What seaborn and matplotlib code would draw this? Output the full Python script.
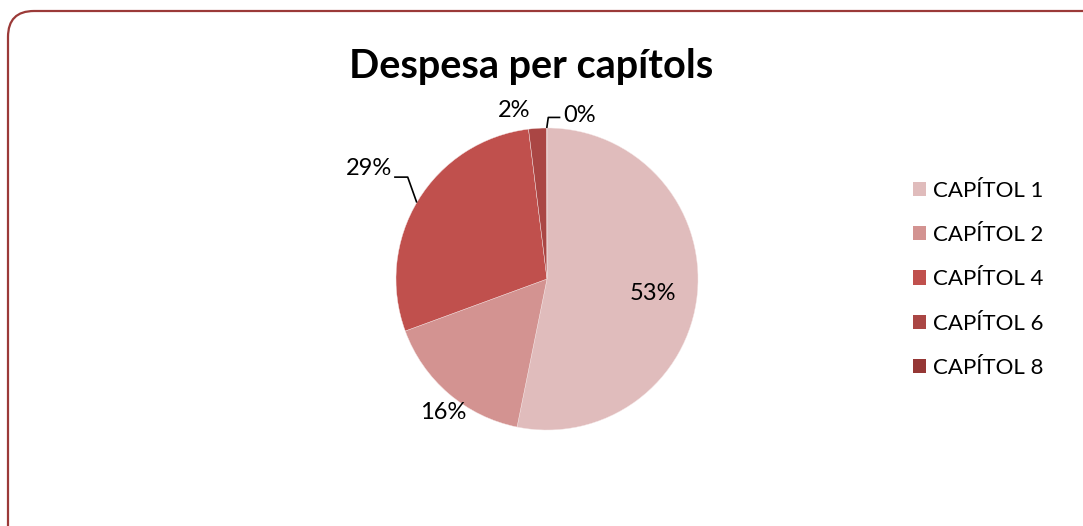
import numpy as np
import matplotlib.pyplot as plt
import seaborn as sns
from matplotlib.patches import FancyBboxPatch, Patch
from matplotlib.transforms import IdentityTransform

# Data: share of spending per chapter (%)
chapters = ['CAPÍTOL 1', 'CAPÍTOL 2', 'CAPÍTOL 4', 'CAPÍTOL 6', 'CAPÍTOL 8']
shares = [53.1, 16.2, 28.6, 1.9, 0.05]
colors = ['#E0BCBC', '#D39391', '#C0504D', '#AA4644', '#953735']
title = 'Despesa per capítols'

sns.set_theme(style='white')
plt.rcParams['font.family'] = ['Lato', 'DejaVu Sans']
plt.rcParams['text.color'] = 'black'

W, H = 1083, 526
fig = plt.figure(figsize=(W / 100, H / 100), dpi=100)

# Rounded chart-area border (display pixels)
frame = FancyBboxPatch((8, -40), 1120, H - 11 + 40,
                       boxstyle='round,pad=0,rounding_size=26',
                       transform=IdentityTransform(), facecolor='none',
                       edgecolor='#9B3A38', linewidth=1.6)
fig.patches.append(frame)

# Axes so that 1 data unit = 151 px, pie centred at (547, 279)
R = 151
cx, cy = 547, H - 279
ax = fig.add_axes([(cx - 2 * R) / W, (cy - 1.5 * R) / H, 4 * R / W, 3 * R / H])
wedges, _ = ax.pie(shares, colors=colors, startangle=90, counterclock=False,
                   wedgeprops=dict(edgecolor='#F4E4E4', linewidth=0.3))
ax.set_xlim(-2, 2)
ax.set_ylim(-1.5, 1.5)
ax.set_aspect('auto')
ax.axis('off')

# Label placement: (radius, angle nudge in degrees, leader?)
placement = [(0.71, -2, None), (1.12, 3, None), (1.40, 0, 'left'),
             (1.14, 7.5, None), (1.13, -12, 'right')]
total = sum(shares)
fs = 17
for w, s, (r, nudge, leader) in zip(wedges, shares, placement):
    mid = (w.theta1 + w.theta2) / 2
    a = np.deg2rad(mid + nudge)
    x, y = r * np.cos(a), r * np.sin(a)
    label = f'{round(100 * s / total):.0f}%'
    if leader == 'left':
        e = np.deg2rad(mid + 1)
        ex, ey = np.cos(e), np.sin(e)
        ax.plot([ex, ex - 0.06, ex - 0.15], [ey, y - 0.055, y - 0.055],
                color='black', lw=1.2, solid_capstyle='butt')
        ax.text(ex - 0.16, y, label, ha='right', va='center', fontsize=fs)
    elif leader == 'right':
        e = np.deg2rad(mid)
        ex, ey = np.cos(e), np.sin(e)
        ax.plot([ex, ex + 0.01, ex + 0.09], [ey, ey + 0.07, ey + 0.07],
                color='black', lw=1.2, solid_capstyle='butt')
        ax.text(ex + 0.11, ey + 0.08, label, ha='left', va='center', fontsize=fs)
    else:
        ax.text(x, y, label, ha='center', va='center', fontsize=fs)

fig.text(531 / W, (H - 78) / H, title, ha='center', va='baseline',
         fontsize=28.5, fontweight='bold')

handles = [Patch(facecolor=c, edgecolor='none') for c in colors]
fig.legend(handles, chapters, loc='upper left', bbox_to_anchor=(904 / W, (H - 172) / H),
           frameon=False, fontsize=16, handlelength=0.6, handleheight=0.6,
           handletextpad=0.32, labelspacing=1.09, borderaxespad=0)

fig.savefig('out.png', dpi=100)
